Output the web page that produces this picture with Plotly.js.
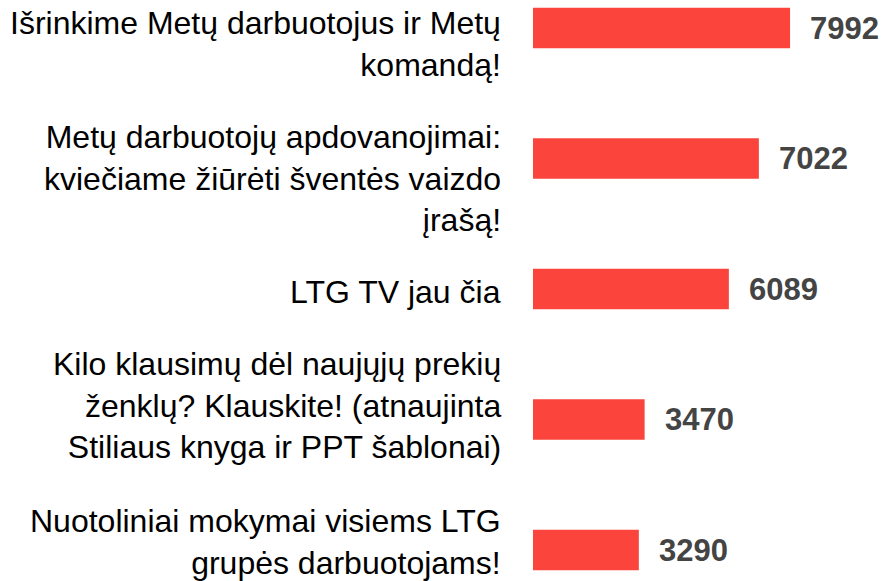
<!DOCTYPE html>
<html>
<head>
<meta charset="utf-8">
<script src="https://cdn.plot.ly/plotly-3.0.1.min.js"></script>
<style>html,body{margin:0;padding:0;background:#fff;}#chart{width:882px;height:581px;}</style>
</head>
<body>
<div id="chart"></div>
<script>
const categories = [
  "Išrinkime Metų darbuotojus ir Metų<br>komandą!",
  "Metų darbuotojų apdovanojimai:<br>kviečiame žiūrėti šventės vaizdo<br>įrašą!",
  "LTG TV jau čia",
  "Kilo klausimų dėl naujųjų prekių<br>ženklų? Klauskite! (atnaujinta<br>Stiliaus knyga ir PPT šablonai)",
  "Nuotoliniai mokymai visiems LTG<br>grupės darbuotojams!"
];
const values = [7992, 7022, 6089, 3470, 3290];

// layout only: vertical nudge (px) of each category label block, as in the reference
const labelNudge = [16, 20, 3, -14, -8];

const FONT = 'Liberation Sans, Arial, sans-serif';

const trace = {
  type: 'bar',
  orientation: 'h',
  x: values,
  y: categories,
  marker: {color: '#fa443c'},
  hoverinfo: 'none'
};

const valueLabels = values.map((v, i) => ({
  x: v, y: categories[i], xref: 'x', yref: 'y',
  text: String(v), showarrow: false,
  xanchor: 'left', yanchor: 'middle', xshift: 18,
  font: {family: FONT, size: 31, color: '#444444', weight: 'bold'}
}));

const categoryLabels = categories.map((c, i) => ({
  x: 0, xref: 'paper', y: c, yref: 'y',
  text: c, showarrow: false, align: 'right',
  xanchor: 'right', yanchor: 'middle', xshift: -30, yshift: -labelNudge[i],
  font: {family: FONT, size: 32, color: '#000000'}
}));

const layout = {
  width: 882, height: 581,
  margin: {l: 533, r: 0, t: 0, b: 0, pad: 0},
  paper_bgcolor: '#ffffff', plot_bgcolor: '#ffffff',
  showlegend: false,
  bargap: 0.69,
  xaxis: {range: [0, 10850], visible: false, fixedrange: true},
  yaxis: {
    type: 'category',
    range: [4.2375, -0.2146],
    showticklabels: false,
    showgrid: false, zeroline: false, showline: false, ticks: ''
  },
  annotations: categoryLabels.concat(valueLabels),
  font: {family: FONT}
};

Plotly.newPlot('chart', [trace], layout, {displayModeBar: false, staticPlot: true});
</script>
</body>
</html>
